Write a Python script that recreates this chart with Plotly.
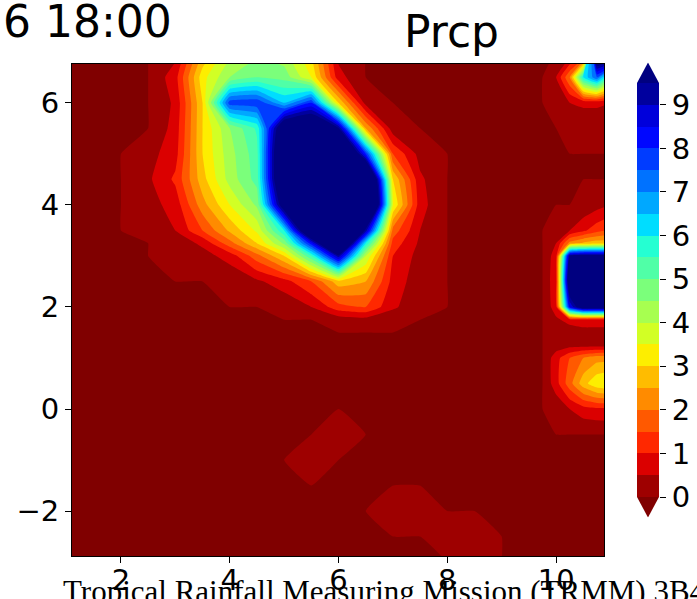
import plotly.graph_objects as go

# ---------------- data ----------------
lon = [1.0, 1.5, 2.0, 2.5, 3.0, 3.5, 4.0, 4.5, 5.0, 5.5, 6.0, 6.5, 7.0, 7.5,
       8.0, 8.5, 9.0, 9.5, 9.75, 10.0, 10.25, 10.5, 10.75, 11.0]
lat = [-3.0, -2.5, -2.0, -1.5, -1.0, -0.5, 0.0, 0.5, 1.0, 1.25, 1.5, 1.75,
       2.0, 2.5, 3.0, 3.25, 3.5, 4.0, 4.5, 5.0, 5.5, 6.0, 6.5, 7.0]

# precipitation, one row per latitude (south -> north), one value per longitude
prcp = [
    [0, 0, 0, 0, 0, 0, 0, 0, 0, 0, 0, 0, 0, 0, 0, 0.2, 0, 0, 0, 0, 0, 0, 0, 0],            # -3.0
    [0, 0, 0, 0, 0, 0, 0, 0, 0, 0, 0, 0, 0, 0, 0.1, 0.2, 0, 0, 0, 0, 0, 0, 0, 0],          # -2.5
    [0, 0, 0, 0, 0, 0, 0, 0, 0, 0, 0, 0, 0.2, 0.2, 0, 0, 0, 0, 0, 0, 0, 0, 0, 0],          # -2.0
    [0, 0, 0, 0, 0, 0, 0, 0, 0, 0, 0, 0, 0, 0, 0, 0, 0, 0, 0, 0, 0, 0, 0, 0],              # -1.5
    [0, 0, 0, 0, 0, 0, 0, 0, 0, 0.2, 0, 0, 0, 0, 0, 0, 0, 0, 0, 0, 0, 0, 0, 0],            # -1.0
    [0, 0, 0, 0, 0, 0, 0, 0, 0, 0, 0.2, 0, 0, 0, 0, 0, 0, 0, 0, 0, 0, 0, 0, 0],            # -0.5
    [0, 0, 0, 0, 0, 0, 0, 0, 0, 0, 0, 0, 0, 0, 0, 0, 0, 0, 0, 0.1, 0.5, 0.8, 0.9, 0.9],    # 0.0
    [0, 0, 0, 0, 0, 0, 0, 0, 0, 0, 0, 0, 0, 0, 0, 0, 0, 0, 0, 0.8, 1.8, 2.8, 3.4, 3.6],    # 0.5
    [0, 0, 0, 0, 0, 0, 0, 0, 0, 0, 0, 0, 0, 0, 0, 0, 0, 0, 0, 0.8, 1.5, 2.0, 2.3, 2.3],    # 1.0
    [0, 0, 0, 0, 0, 0, 0, 0, 0, 0, 0, 0, 0, 0, 0, 0, 0, 0, 0, 0.2, 0.3, 0.3, 0.3, 0.3],    # 1.25
    [0, 0, 0, 0, 0, 0, 0, 0, 0, 0, 0, 0, 0, 0, 0, 0, 0, 0, 0, 0.2, 0.2, 0.3, 0.3, 0.3],    # 1.5
    [0, 0, 0, 0, 0, 0, 0, 0, 0, 0, 0.2, 0.3, 0.1, 0, 0, 0, 0, 0, 0, 0.4, 0.7, 0.8, 0.8, 0.8],  # 1.75
    [0, 0, 0, 0, 0, 0, 0, 0, 0.1, 0.5, 1.3, 1.5, 0.6, 0.1, 0, 0, 0, 0, 0, 0.8, 8.5, 10.5, 10.5, 10.5],  # 2.0
    [0, 0, 0, 0, 0, 0, 0.1, 0.4, 0.8, 1.5, 2.8, 2.5, 0.8, 0.2, 0, 0, 0, 0, 0, 0.9, 11, 16, 16, 15],  # 2.5
    [0, 0, 0, 0, 0.1, 0.3, 0.7, 1.8, 3.0, 5.5, 9.3, 4.0, 1.0, 0.3, 0, 0, 0, 0, 0, 0.8, 9.6, 10, 10, 10],  # 3.0
    [0, 0, 0, 0, 0.2, 0.6, 1.8, 3.0, 4.6, 8.3, 13, 6.0, 1.3, 0.4, 0, 0, 0, 0, 0, 0.5, 2.2, 2.6, 2.8, 2.8],  # 3.25
    [0, 0, 0, 0.2, 0.5, 1.5, 2.6, 3.6, 6.0, 12, 14, 9.3, 1.8, 0.5, 0, 0, 0, 0, 0, 0.1, 0.5, 0.9, 1.3, 1.6],  # 3.5
    [0, 0, 0, 0.3, 0.7, 2.3, 3.5, 4.6, 10.5, 17, 18, 15, 3.5, 0.7, 0, 0, 0, 0, 0, 0, 0, 0.1, 0.3, 0.5],  # 4.0
    [0, 0, 0, 0.4, 1.1, 2.8, 4.2, 5.2, 12, 17, 18, 14, 3.0, 0.6, 0, 0, 0, 0, 0, 0, 0, 0, 0, 0],  # 4.5
    [0, 0, 0, 0.3, 0.8, 3.0, 4.3, 5.3, 12, 15, 14, 8.0, 1.5, 0.3, 0, 0, 0, 0, 0, 0, 0, 0, 0, 0],  # 5.0
    [0, 0, 0, 0, 0.7, 3.0, 4.5, 5.6, 11, 11.5, 9.6, 2.5, 0.2, 0, 0, 0, 0, 0, 0, 0, 0.1, 0.1, 0.1, 0.1],  # 5.5
    [0, 0, 0, 0, 0.6, 3.0, 7.8, 7.9, 6.5, 8.0, 3.0, 0.3, 0, 0, 0, 0, 0, 0, 0, 0.2, 0.5, 0.6, 0.6, 0.5],  # 6.0
    [0, 0, 0, 0, 0.8, 3.3, 4.5, 5.0, 4.8, 3.5, 0.7, 0, 0, 0, 0, 0, 0, 0, 0, 0.5, 2.0, 6.0, 7.5, 5.0],  # 6.5
    [0, 0, 0, 0, 0.3, 2.5, 3.8, 4.3, 4.1, 3.0, 0.3, 0, 0, 0, 0, 0, 0, 0, 0, 0, 0, 0, 12, 12],  # 7.0
]

level_start, level_end, level_step = 0.0, 9.5, 0.5
cbar_ticks = [0, 1, 2, 3, 4, 5, 6, 7, 8, 9]
x_ticks = [2, 4, 6, 8, 10]
y_ticks = [-2, 0, 2, 4, 6]

# jet_r colours: under, 19 bands (0-0.5 ... 9-9.5), over
band_colors = [
    "rgb(128,0,0)", "rgb(158,0,0)", "rgb(219,0,0)", "rgb(255,40,0)", "rgb(255,89,0)",
    "rgb(255,139,0)", "rgb(255,188,0)", "rgb(253,238,0)", "rgb(210,255,37)",
    "rgb(167,255,80)", "rgb(123,255,123)", "rgb(80,255,167)", "rgb(37,255,210)",
    "rgb(0,221,255)", "rgb(0,168,255)", "rgb(0,114,255)", "rgb(0,60,255)",
    "rgb(0,7,255)", "rgb(0,0,219)", "rgb(0,0,158)", "rgb(0,0,128)",
]

# ---------------- derived helpers ----------------
n = len(band_colors)
colorscale = []
for k, c in enumerate(band_colors):
    lo = max(0.0, (k - 0.5) / (n - 1))
    hi = min(1.0, (k + 0.5) / (n - 1))
    colorscale.append([lo, c])
    colorscale.append([hi, c])
zmin = level_start - level_step / 2
zmax = level_end + level_step / 2

nb = int(round((level_end - level_start) / level_step))
cb_edges = [level_start + i * level_step for i in range(nb + 1)]
cb_mid = [[(cb_edges[i] + cb_edges[i + 1]) / 2] for i in range(nb)]

W, H = 697, 599
ML, MR, MT, MB = 72, 35, 60, 43
PW, PH = W - ML - MR, H - MT - MB


def xp(px):
    return (px - ML) / PW


def yp(py):
    return (H - MB - py) / PH


cb_px_per_unit = (497 - 83) / (level_end - level_start)
tri = 20.5 / cb_px_per_unit

font_main = "DejaVu Sans, Arial, sans-serif"
tick_size = 29

fig = go.Figure()
fig.add_trace(go.Contour(
    x=lon, y=lat, z=prcp,
    colorscale=colorscale, zmin=zmin, zmax=zmax, zauto=False,
    autocontour=False,
    contours=dict(start=level_start, end=level_end, size=level_step,
                  coloring="fill", showlines=False),
    line=dict(width=0, smoothing=0.35),
    showscale=False, hoverinfo="skip",
))
fig.add_trace(go.Heatmap(
    x=[0, 1], y=cb_edges, z=cb_mid,
    colorscale=colorscale, zmin=zmin, zmax=zmax, zauto=False,
    showscale=False, hoverinfo="skip",
    xaxis="x2", yaxis="y2",
))

shapes = [
    dict(type="path", xref="x2", yref="y2",
         path=f"M 0,{level_end} L 1,{level_end} L 0.5,{level_end + tri} Z",
         fillcolor=band_colors[-1], line=dict(width=0), layer="above"),
    dict(type="path", xref="x2", yref="y2",
         path=f"M 0,{level_start} L 1,{level_start} L 0.5,{level_start - tri} Z",
         fillcolor=band_colors[0], line=dict(width=0), layer="above"),
]

axis_common = dict(
    showgrid=False, zeroline=False, ticks="outside", ticklen=6, tickwidth=1,
    tickcolor="black", showline=True, linecolor="black", linewidth=1, mirror=True,
    automargin=False,
    tickfont=dict(family=font_main, size=tick_size, color="black"),
)

fig.update_layout(
    template="none",
    width=W, height=H,
    margin=dict(l=ML, r=MR, t=MT, b=MB, pad=0),
    paper_bgcolor="white", plot_bgcolor="white",
    showlegend=False,
    xaxis=dict(domain=[0, xp(604)], range=[1.1, 10.88], tickvals=x_ticks,
               ticklabelstandoff=-8, **axis_common),
    yaxis=dict(domain=[yp(556), yp(63.5)], range=[-2.88, 6.77], tickvals=y_ticks, **axis_common),
    xaxis2=dict(domain=[xp(637), xp(659)], range=[0, 1], visible=False, anchor="y2",
                automargin=False),
    yaxis2=dict(domain=[yp(517.5), yp(62.5)], range=[level_start - tri, level_end + tri],
                anchor="x2", side="right", tickvals=cbar_ticks, ticks="outside",
                ticklen=6, tickcolor="black", showgrid=False, zeroline=False,
                showline=False, automargin=False,
                tickfont=dict(family=font_main, size=tick_size, color="black")),
    shapes=shapes,
    annotations=[
        dict(text="6 18:00", xref="paper", yref="paper", x=xp(1), y=yp(21.5),
             xanchor="left", yanchor="middle", showarrow=False,
             font=dict(family=font_main, size=44, color="black")),
        dict(text="Prcp", xref="paper", yref="paper", x=xp(452), y=yp(31.8),
             xanchor="center", yanchor="middle", showarrow=False,
             font=dict(family=font_main, size=44, color="black")),
        dict(text="Tropical Rainfall Measuring Mission (TRMM) 3B42", xref="paper", yref="paper",
             x=xp(61), y=yp(591), xanchor="left", yanchor="middle", showarrow=False,
             font=dict(family="Liberation Serif, Times New Roman, serif", size=31, color="black")),
    ],
)

fig.write_html("out.html")
